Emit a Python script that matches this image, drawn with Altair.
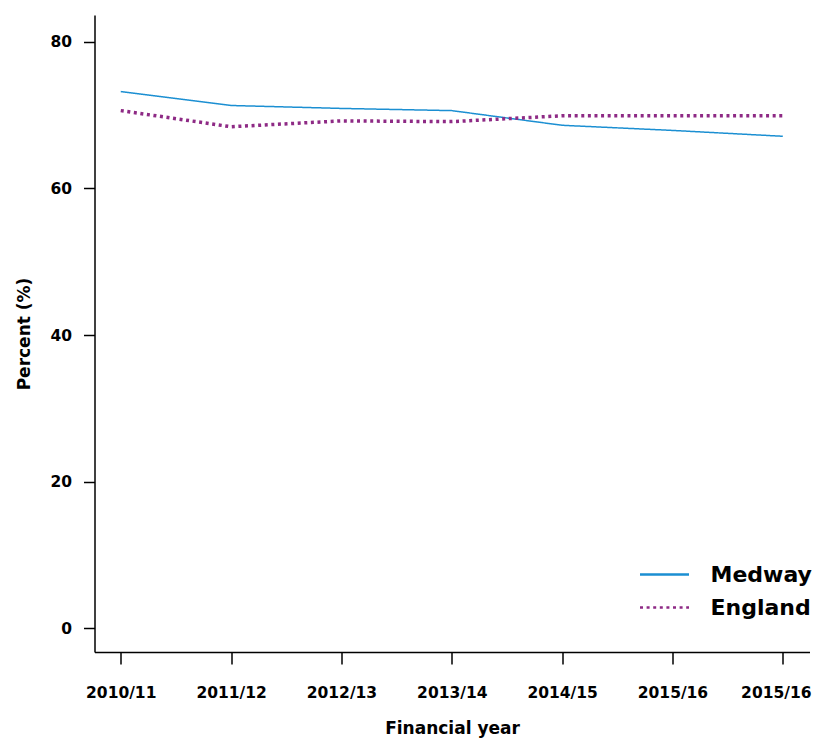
import altair as alt
import pandas as pd

years = ["2010/11", "2011/12", "2012/13", "2013/14", "2014/15", "2015/16", "2015/16"]
medway = [73.2, 71.3, 70.9, 70.6, 68.6, 67.9, 67.1]
england = [70.6, 68.4, 69.2, 69.1, 69.9, 69.9, 69.9]

rows = []
for i, (y, m, e) in enumerate(zip(years, medway, england)):
    rows.append({"idx": i + 1, "year": y, "series": "Medway", "value": m})
    rows.append({"idx": i + 1, "year": y, "series": "England", "value": e})
df = pd.DataFrame(rows)

label_expr = "[" + ",".join(f"'{y}'" for y in years) + "][datum.value - 1]"

FONT = "DejaVu Sans"
SERIES = ["Medway", "England"]

legend = alt.Legend(title=None, orient="none", legendX=544, legendY=543,
                    symbolType="stroke", symbolSize=2401, clipHeight=33,
                    labelFontSize=22, labelFont=FONT, labelFontWeight="bold",
                    labelColor="#000", labelOffset=20, rowPadding=0,
                    symbolStrokeWidth=2.5)

base = alt.Chart(df).encode(
    x=alt.X("idx:Q",
            scale=alt.Scale(domain=[0.762, 7.242], nice=False, zero=False),
            axis=alt.Axis(values=[1, 2, 3, 4, 5, 6, 7], labelExpr=label_expr,
                          title="Financial year", grid=False, tickSize=12,
                          labelPadding=21, titlePadding=20,
                          labelOffset={"condition": {"test": "datum.value == 7", "value": -7},
                                       "value": 0})),
    y=alt.Y("value:Q",
            scale=alt.Scale(domain=[-3.23, 83.64], nice=False, zero=False),
            axis=alt.Axis(values=[0, 20, 40, 60, 80], title="Percent (%)",
                          grid=False, tickSize=11, labelPadding=12, titlePadding=16)),
    color=alt.Color("series:N",
                    scale=alt.Scale(domain=SERIES, range=["#1b8fd2", "#8e2a85"]),
                    legend=legend),
    strokeDash=alt.StrokeDash("series:N",
                              scale=alt.Scale(domain=SERIES, range=[[1, 0], [3, 3.6]]),
                              legend=legend),
)

med_line = base.transform_filter(alt.datum.series == "Medway").mark_line(strokeWidth=1.5)
eng_line = base.transform_filter(alt.datum.series == "England").mark_line(strokeWidth=3.5)

chart = alt.layer(med_line, eng_line).properties(
    width=715, height=637,
    padding={"left": 86.5, "top": 7, "right": 2.5, "bottom": 91},
    autosize="none",
).configure_view(stroke=None).configure_axis(
    domainColor="#000", tickColor="#000", domainWidth=1.5, tickWidth=1.5,
    labelFont=FONT, labelFontWeight="bold", labelFontSize=15.5, labelColor="#000",
    titleFont=FONT, titleFontWeight="bold", titleFontSize=17, titleColor="#000",
)

chart.save("out.html", embed_options={"renderer": "svg", "actions": False})
